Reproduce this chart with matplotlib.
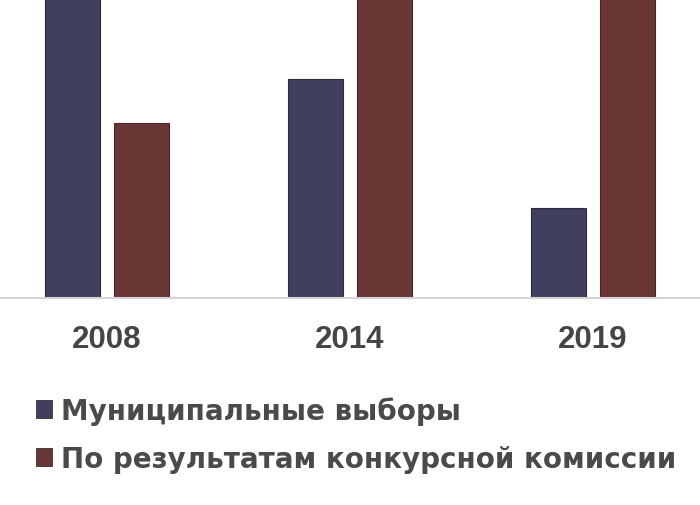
import matplotlib.pyplot as plt
from matplotlib.patches import Patch
import numpy as np

years = ['2008', '2014', '2019']
# высота столбиков (верх части столбиков обрезан в исходнике)
municipal = [330, 219, 90]
commission = [175, 330, 330]
labels = ['Муниципальные выборы', 'По результатам конкурсной комиссии']
colors = ['#40405e', '#6a3535']

fig = plt.figure(figsize=(7, 5.06), dpi=100)
ax = fig.add_axes([0, (506 - 299) / 506, 1, 299 / 506])

x = np.arange(len(years))
w = 0.226
ax.bar(x - 0.143, municipal, w, color=colors[0], edgecolor='#2a2a3a', linewidth=0.8)
ax.bar(x + 0.143, commission, w, color=colors[1], edgecolor='#4a2525', linewidth=0.8)

ax.set_xlim(-0.44, 2.44)
ax.set_ylim(0, 299)
for s in ['top', 'left', 'right']:
    ax.spines[s].set_visible(False)
ax.spines['bottom'].set_color('#d4d4d4')
ax.spines['bottom'].set_linewidth(1.5)
ax.set_yticks([])
ax.set_xticks(x)
ax.set_xticklabels(years, fontsize=22.5, fontweight='bold', color='#454545',
                   family='Liberation Sans')
ax.tick_params(axis='x', length=0, pad=19)

handles = [Patch(facecolor=c, edgecolor='#303030', linewidth=0.6) for c in colors]
fig.legend(handles, labels, loc='upper left', bbox_to_anchor=(0.016, 0.265),
           frameon=False, handlelength=0.58, handleheight=0.6, handletextpad=0.33,
           labelspacing=0.72, prop={'family': 'DejaVu Sans', 'weight': 'bold', 'size': 20},
           labelcolor='#4a4a4a')

plt.savefig('out.png', dpi=100)
